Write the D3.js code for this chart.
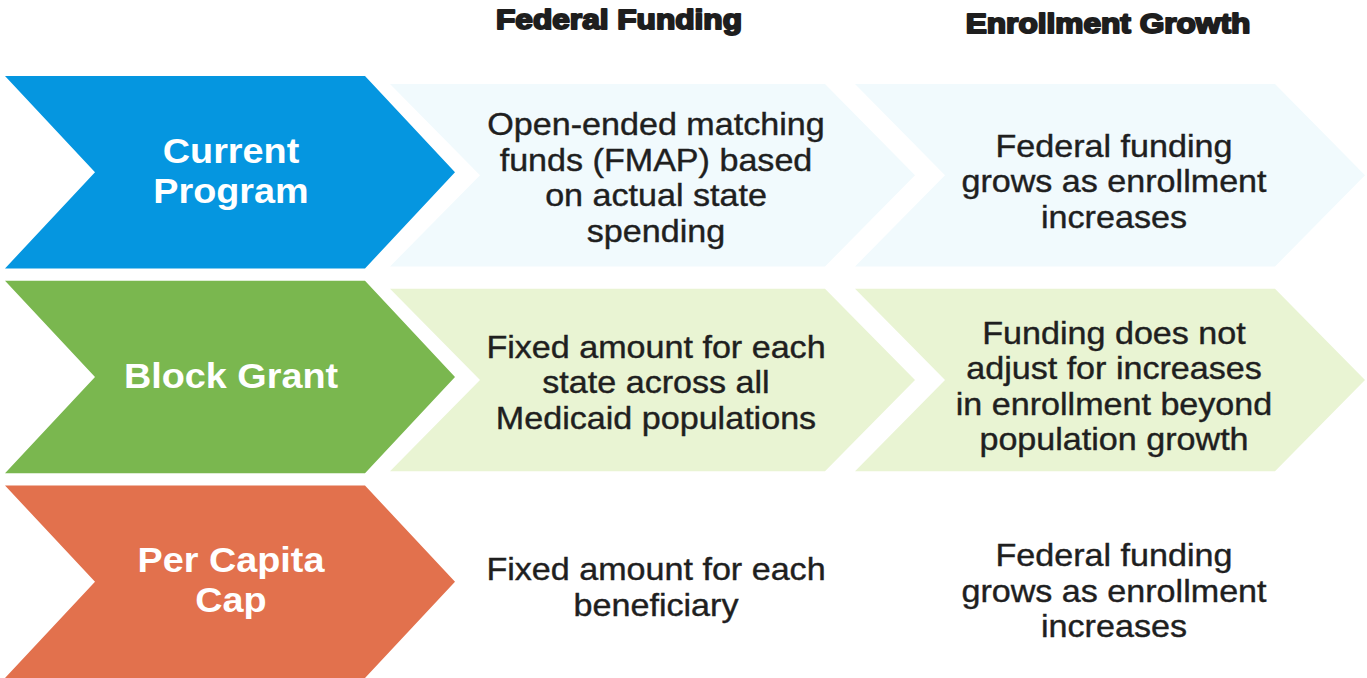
<!DOCTYPE html>
<html lang="en">
<head>
<meta charset="UTF-8">
<title>Medicaid financing models</title>
<script src="https://cdn.jsdelivr.net/npm/d3@7/dist/d3.min.js"></script>
<style>
  html, body { margin: 0; padding: 0; background: #fff; }
  svg { display: block; }
</style>
</head>
<body>
<svg width="1367" height="678"></svg>
<script>
    // data
    var headers = ["Federal Funding", "Enrollment Growth"];
    var models = ["Current Program", "Block Grant", "Per Capita Cap"];
    var modelLines = [["Current", "Program"], ["Block Grant"], ["Per Capita", "Cap"]];
    var fundingText = [
        ["Open-ended matching", "funds (FMAP) based", "on actual state", "spending"],
        ["Fixed amount for each", "state across all", "Medicaid populations"],
        ["Fixed amount for each", "beneficiary"]
    ];
    var growthText = [
        ["Federal funding", "grows as enrollment", "increases"],
        ["Funding does not", "adjust for increases", "in enrollment beyond", "population growth"],
        ["Federal funding", "grows as enrollment", "increases"]
    ];
    var darkColors = ["#0596e0", "#7ab74f", "#e2714d"];
    var lightColors = ["#f1fafd", "#e9f4d3", "none"];

    var svg = d3.select("svg"),
        width = +svg.attr("width"),
        height = +svg.attr("height");

    var y = d3.scaleBand()
        .domain(models)
        .range([76, 678])
        .paddingInner(0.06);

    // column chevrons: [left, right]
    var cols = [[5, 455], [390, 915], [855, 1365]];
    var depth = 90;

    var line = d3.line().curve(d3.curveLinearClosed);
    function chevron(x0, x1, y0, y1) {
        var ym = (y0 + y1) / 2;
        return line([[x0, y0], [x1 - depth, y0], [x1, ym], [x1 - depth, y1], [x0, y1], [x0 + depth, ym]]);
    }

    var rows = svg.selectAll("g.row")
        .data(models)
        .enter().append("g")
        .attr("class", "row");

    // light chevrons behind
    [1, 2].forEach(function(c) {
        rows.append("path")
            .attr("d", function(d) {
                return chevron(cols[c][0], cols[c][1], y(d) + 8, y(d) + y.bandwidth() - 2);
            })
            .attr("fill", function(d, i) { return lightColors[i]; });
    });

    // main chevrons
    rows.append("path")
        .attr("d", function(d) { return chevron(cols[0][0], cols[0][1], y(d), y(d) + y.bandwidth()); })
        .attr("fill", function(d, i) { return darkColors[i]; });

    function addLines(sel, lines, cx, cy, size, lh, weight, fill, sx, sw) {
        var g = sel.append("g")
            .attr("transform", "translate(" + cx + "," + cy + ") scale(" + sx + ",1)");
        var n = lines.length;
        g.selectAll("text")
            .data(lines)
            .enter().append("text")
            .attr("x", 0)
            .attr("y", function(d, i) { return (i - (n - 1) / 2) * lh; })
            .attr("dy", "0.36em")
            .attr("text-anchor", "middle")
            .style("font-family", "'Liberation Sans', Arial, sans-serif")
            .style("font-size", size + "px")
            .style("font-weight", weight)
            .attr("fill", fill)
            .attr("stroke", fill)
            .attr("stroke-width", sw)
            .text(function(d) { return d; });
    }

    rows.each(function(d, i) {
        var g = d3.select(this);
        var cy = y(d) + y.bandwidth() / 2;
        addLines(g, modelLines[i], 231, cy - 2, 35, 40, "bold", "#fff", 1.08, 0);
        addLines(g, fundingText[i], 656, cy + 5, 31, 35.5, "normal", "#1f1f1f", 1.1, 0.4);
        addLines(g, growthText[i], 1114, cy + 9, 31, 35.5, "normal", "#1f1f1f", 1.1, 0.4);
    });

    // column headers
    var hx = [619, 1108], hy = [29, 33];
    svg.selectAll("text.header")
        .data(headers)
        .enter().append("text")
        .attr("class", "header")
        .attr("transform", function(d, i) { return "translate(" + hx[i] + "," + hy[i] + ") scale(1.13,1)"; })
        .attr("text-anchor", "middle")
        .style("font-family", "'Liberation Sans', Arial, sans-serif")
        .style("font-size", "28px")
        .style("font-weight", "bold")
        .attr("fill", "#1e1e1e")
        .attr("stroke", "#1e1e1e")
        .attr("stroke-width", 2)
        .attr("stroke-linejoin", "round")
        .text(function(d) { return d; });
</script>
</body>
</html>
